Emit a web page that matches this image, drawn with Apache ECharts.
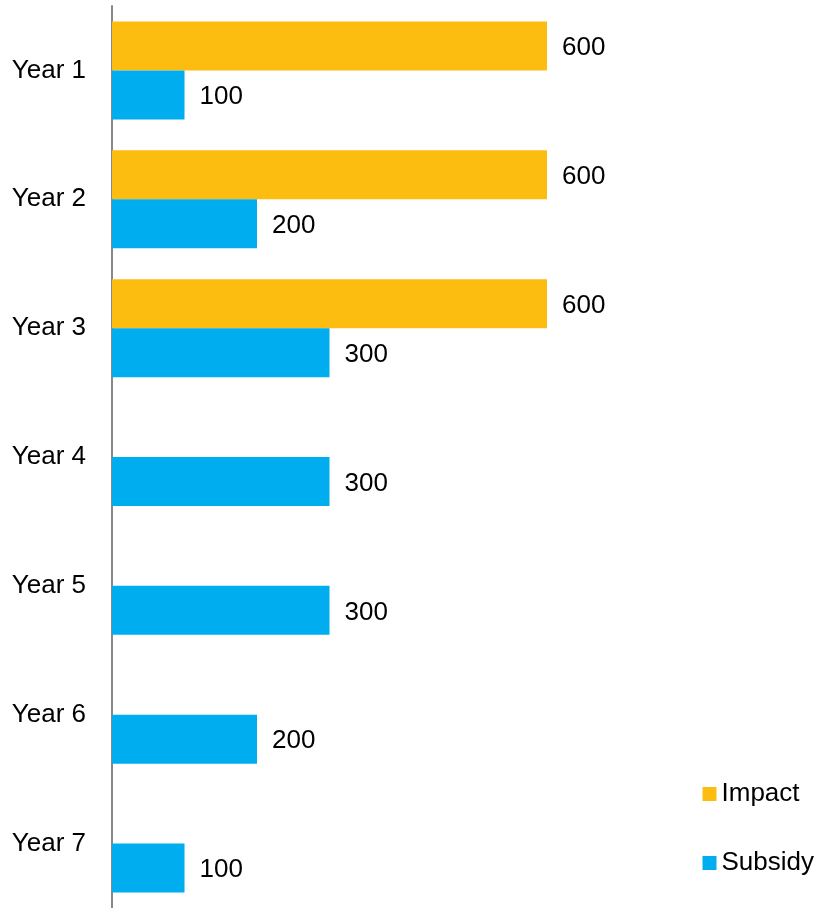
<!DOCTYPE html>
<html><head><meta charset="utf-8">
<script src="https://cdn.jsdelivr.net/npm/echarts@6/dist/echarts.min.js"></script>
<style>html,body{margin:0;padding:0;background:#fff}#c{width:821px;height:908px}</style>
</head><body><div id="c"></div>
<script>
const categories = ['Year 1','Year 2','Year 3','Year 4','Year 5','Year 6','Year 7'];
const impact = [600, 600, 600, null, null, null, null];
const subsidy = [100, 200, 300, 300, 300, 200, 100];
const FONT = '"Liberation Sans", Arial, sans-serif';
const chart = echarts.init(document.getElementById('c'), null, {renderer:'canvas'});
const lbl = {show:true, position:'right', distance:15, offset:[0,2], color:'#000', fontSize:26, fontFamily:FONT};
chart.setOption({
  animation:false,
  legend:{
    orient:'vertical', right:2, top:776, itemWidth:14, itemHeight:14, itemGap:43,
    icon:'rect', textStyle:{fontSize:26, color:'#000', fontFamily:FONT}, itemStyle:{borderWidth:0},
    data:['Impact','Subsidy']
  },
  grid:{left:112, top:6, width:580, bottom:0, containLabel:false},
  xAxis:{type:'value', min:0, max:800, show:false},
  yAxis:{type:'category', data:categories, inverse:true,
    axisLine:{show:true, lineStyle:{color:'#888', width:2}},
    axisTick:{show:false},
    axisLabel:{fontSize:26, color:'#000', fontFamily:FONT, margin:26}
  },
  series:[
    {name:'Impact', type:'bar', data:impact, barWidth:49, barGap:'0%', itemStyle:{color:'#FDBD10'}, label:lbl},
    {name:'Subsidy', type:'bar', data:subsidy, barWidth:49, barGap:'0%', itemStyle:{color:'#00AEEF'}, label:lbl}
  ]
});
</script></body></html>
